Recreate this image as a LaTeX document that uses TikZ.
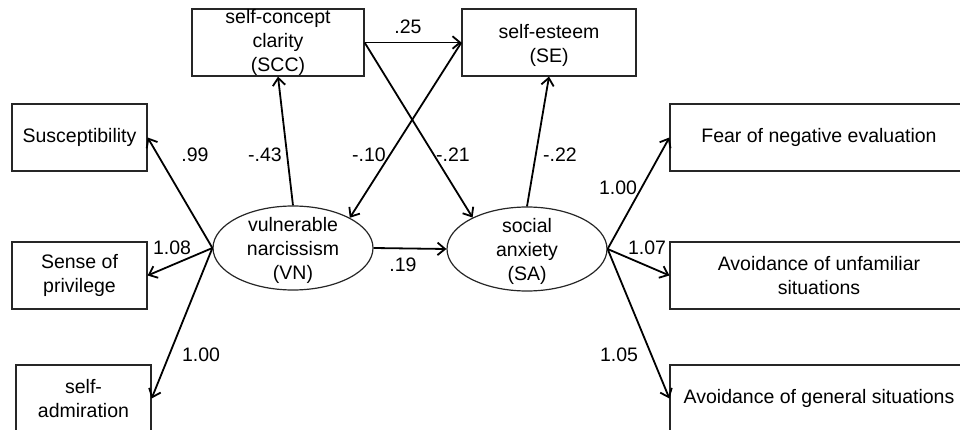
\documentclass[tikz,border=0pt]{standalone}
\usepackage{fontspec}
\setmainfont{Liberation Sans}
\usetikzlibrary{shapes.geometric,arrows.meta}
\begin{document}
\begin{tikzpicture}[x=1pt,y=-1pt,
  font=\fontsize{19.5}{24}\selectfont,
  box/.style={draw=black!85,line width=1.2pt,rectangle,inner sep=0pt,align=center,minimum height=67pt},
  lat/.style={draw=black!85,line width=1.2pt,ellipse,inner sep=0pt,minimum width=160pt,minimum height=84pt},
  txt/.style={align=center,inner sep=0pt},
  lbl/.style={inner sep=0pt},
  arr/.style={line width=1.8pt,-{Straight Barb[length=7.5pt,width=12.5pt]}}
]
\useasboundingbox (0,0) rectangle (960,430);

\node[box,minimum width=172pt] (SCC) at (278,42.5) {self-concept\\clarity\\(SCC)};
\node[box,minimum width=174pt] (SE) at (549,42.5) {};
\node[txt] (SEt) at (549,45) {self-esteem\\(SE)};
\node[box,minimum width=135pt] (SUS) at (79.5,137.5) {Susceptibility};
\node[box,minimum width=135pt] (PRI) at (79.5,275.5) {Sense of\\privilege};
\node[box,minimum width=135pt] (ADM) at (83.5,398.5) {self-\\admiration};
\node[box,minimum width=298pt] (FNE) at (819,137.5) {Fear of negative evaluation};
\node[box,minimum width=298pt] (AUS) at (819,275.5) {Avoidance of unfamiliar\\situations};
\node[box,minimum width=298pt] (AGS) at (819,398.5) {Avoidance of general situations};

\node[lat] (VN) at (293,248) {};
\node[txt] (VNt) at (293,250) {vulnerable\\narcissism\\(VN)};
\node[lat] (SA) at (527,249) {};
\node[txt] (SAt) at (527,251) {social\\anxiety\\(SA)};

\draw[arr] (VN.west) -- (SUS.east);
\draw[arr] (VN.west) -- (PRI.east);
\draw[arr] (VN.west) -- (ADM.east);
\draw[arr] (VN.north) -- (SCC.south);
\draw[arr] (SCC.east) -- (SE.west);
\draw[arr] (SCC.east) -- (SA.150);
\draw[arr] (SE.west) -- (VN.28);
\draw[arr] (SA.north) -- (SE.south);
\draw[arr] (VN.east) -- (SA.west);
\draw[arr] (SA.east) -- (FNE.west);
\draw[arr] (SA.east) -- (AUS.west);
\draw[arr] (SA.east) -- (AGS.west);

\node[lbl] (l1) at (195,155) {.99};
\node[lbl] (l2) at (265,155) {-.43};
\node[lbl] (l3) at (369,155) {-.10};
\node[lbl] (l4) at (453,155) {-.21};
\node[lbl] (l5) at (408,27) {.25};
\node[lbl] (l6) at (560,155) {-.22};
\node[lbl] (l7) at (618,188) {1.00};
\node[lbl] (l8) at (172,248) {1.08};
\node[lbl] (l9) at (201,355) {1.00};
\node[lbl] (l10) at (403,265) {.19};
\node[lbl] (l11) at (647,248) {1.07};
\node[lbl] (l12) at (619,355) {1.05};
\end{tikzpicture}
\end{document}
